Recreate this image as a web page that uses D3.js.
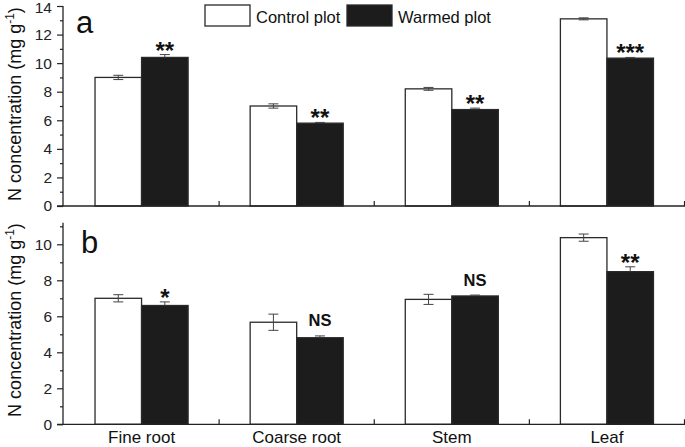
<!DOCTYPE html>
<html><head><meta charset="utf-8">
<script src="https://cdn.jsdelivr.net/npm/d3@7"></script>
<style>body{margin:0;background:#fff}svg{display:block;font-family:"Liberation Sans",Arial,sans-serif}</style>
</head><body>
<svg id="c" width="685" height="447"></svg>
<script>
const categories = ["Fine root", "Coarse root", "Stem", "Leaf"];
const seriesNames = ["Control plot", "Warmed plot"];
const controlA = [9.0, 7.0, 8.2, 13.1];
const controlAErr = [0.15, 0.15, 0.1, 0.07];
const warmedA = [10.4, 5.8, 6.75, 10.35];
const warmedAErr = [0.2, 0.05, 0.1, 0.05];
const sigA = ["**", "**", "**", "***"];
const controlB = [7.0, 5.67, 6.94, 10.37];
const controlBErr = [0.2, 0.45, 0.28, 0.2];
const warmedB = [6.6, 4.81, 7.13, 8.48];
const warmedBErr = [0.2, 0.1, 0.05, 0.27];
const sigB = ["*", "NS", "NS", "**"];
const ticksA = [0, 2, 4, 6, 8, 10, 12, 14];
const ticksB = [0, 2, 4, 6, 8, 10];

const svg = d3.select("#c");
const axisCol = "#222";
const x = d3.scaleBand().domain(categories).range([64, 684.5]);
const x1 = d3.scaleBand().domain(seriesNames).range([x.bandwidth()*0.2, x.bandwidth()*0.8]);

function panel(y, ctrl, ctrlErr, warm, warmErr, sig, majors, minors, label, labelY, titleY) {
  const g = svg.append("g");
  const y0 = y(0);
  categories.forEach((c, i) => {
    const vals = [ctrl[i], warm[i]];
    const errs = [ctrlErr[i], warmErr[i]];
    seriesNames.forEach((s, j) => {
      const bx = x(c) + x1(s);
      g.append("rect").attr("x", bx).attr("y", y(vals[j])).attr("width", x1.bandwidth())
        .attr("height", y0 - y(vals[j]))
        .attr("fill", j === 0 ? "#fff" : "#1c1c1c").attr("stroke", "#2a2a2a").attr("stroke-width", 1.3);
      const cx = bx + x1.bandwidth()/2;
      const top = y(vals[j] + errs[j]);
      const bot = j === 0 ? y(vals[j] - errs[j]) : y(vals[j]);
      g.append("line").attr("x1", cx).attr("x2", cx).attr("y1", top).attr("y2", bot).attr("stroke", "#444").attr("stroke-width", 1);
      g.append("line").attr("x1", cx-5).attr("x2", cx+5).attr("y1", top).attr("y2", top).attr("stroke", "#444").attr("stroke-width", 1);
      if (j === 0) g.append("line").attr("x1", cx-5).attr("x2", cx+5).attr("y1", bot).attr("y2", bot).attr("stroke", "#444").attr("stroke-width", 1);
    });
    const wx = x(c) + x1(seriesNames[1]) + x1.bandwidth()/2;
    const errTop = y(warm[i] + warmErr[i]);
    if (sig[i] === "NS") {
      g.append("text").attr("x", wx).attr("y", errTop - 9.5).attr("text-anchor", "middle")
        .attr("font-size", 16.5).attr("font-weight", "bold").attr("fill", "#111").text(sig[i]);
    } else {
      g.append("text").attr("x", wx).attr("y", errTop + 4).attr("text-anchor", "middle")
        .attr("font-size", 24).attr("font-weight", "bold").attr("fill", "#111").text(sig[i]);
    }
  });
  const ya = d3.axisLeft(y).tickValues(majors).tickSize(6).tickPadding(5).tickFormat(d3.format("d"));
  const ga = g.append("g").attr("transform", "translate(63,0)").call(ya);
  ga.select(".domain").attr("stroke", axisCol).attr("stroke-width", 1.3).attr("d", `M0,${y0}V${y.range()[1]}`);
  ga.selectAll(".tick line").attr("stroke", axisCol).attr("stroke-width", 1.2);
  ga.selectAll(".tick text").attr("font-size", 15.5).attr("fill", "#222").attr("font-family", "Liberation Sans, Arial, sans-serif")
    .attr("y", d => (y(d) - 6 < 6 ? 1.5 : 0));
  const ym = d3.axisLeft(y).tickValues(minors).tickSize(3).tickFormat("");
  const gm = g.append("g").attr("transform", "translate(63,0)").call(ym);
  gm.select(".domain").remove();
  gm.selectAll(".tick line").attr("stroke", axisCol).attr("stroke-width", 1.2);
  g.append("line").attr("x1", 57).attr("x2", 685).attr("y1", y0).attr("y2", y0).attr("stroke", axisCol).attr("stroke-width", 1.3);
  categories.forEach(c => {
    const bx = x(c) + x.bandwidth();
    g.append("line").attr("x1", bx).attr("x2", bx).attr("y1", y0).attr("y2", y0 - 5).attr("stroke", axisCol).attr("stroke-width", 1.2);
  });
  g.append("text").attr("x", label[1]).attr("y", labelY).attr("font-size", 31).attr("fill", "#111").text(label[0]);
  const t = g.append("text").attr("transform", `translate(21,${titleY}) rotate(-90)`).attr("text-anchor", "middle")
    .attr("font-size", 18).attr("fill", "#111");
  t.append("tspan").text("N concentration (mg g");
  t.append("tspan").attr("font-size", 12).attr("dy", -7).text("-1");
  t.append("tspan").attr("dy", 7).text(")");
}

const yA = d3.scaleLinear().domain([0, 14]).range([206, 6]);
const yB = d3.scaleLinear().domain([0, 11.2]).range([424.3, 424.3 - 11.2*18]);
panel(yA, controlA, controlAErr, warmedA, warmedAErr, sigA, ticksA, [1,3,5,7,9,11,13], ["a", 76], 33, 104);
panel(yB, controlB, controlBErr, warmedB, warmedBErr, sigB, ticksB, [1,3,5,7,9,11], ["b", 81], 253, 320);

categories.forEach(c => {
  svg.append("text").attr("x", x(c) + x.bandwidth()/2).attr("y", 443).attr("text-anchor", "middle")
    .attr("font-size", 17).attr("fill", "#111").text(c);
});

const legendX = [205, 347];
seriesNames.forEach((s, j) => {
  svg.append("rect").attr("x", legendX[j]).attr("y", 5).attr("width", 45).attr("height", 21)
    .attr("fill", j === 0 ? "#fff" : "#1c1c1c").attr("stroke", "#2a2a2a").attr("stroke-width", 1.3);
  svg.append("text").attr("x", legendX[j] + 51).attr("y", 22.5).attr("font-size", 16.5).attr("fill", "#111").text(s);
});
</script>
</body></html>
